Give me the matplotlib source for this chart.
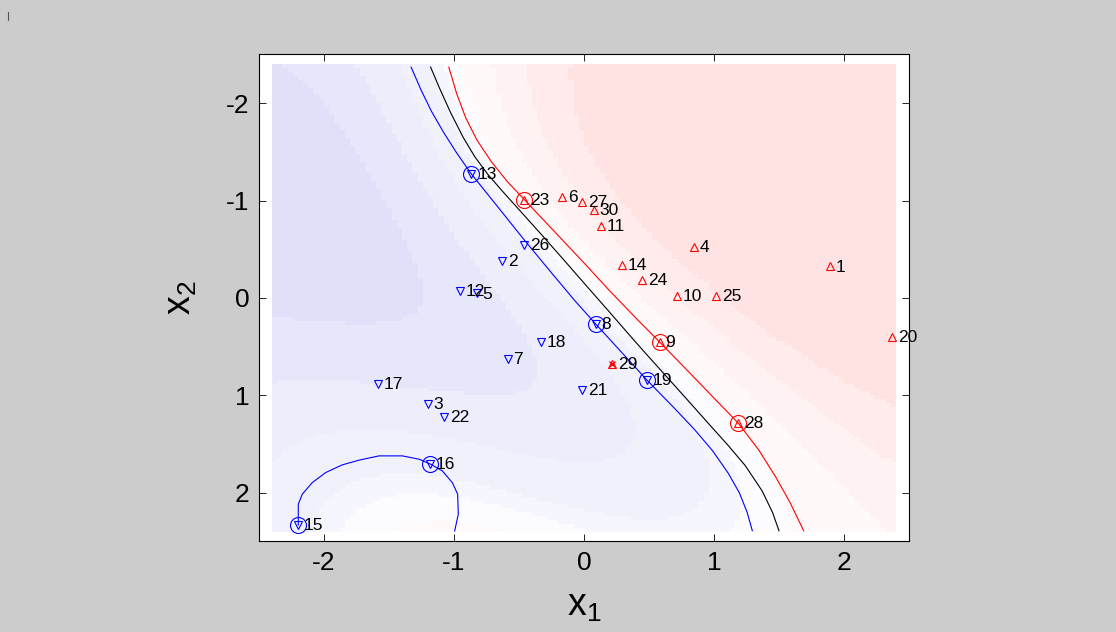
import numpy as np
import matplotlib
matplotlib.use("Agg")
import matplotlib.pyplot as plt
from matplotlib.colors import ListedColormap, BoundaryNorm
from matplotlib.lines import Line2D

plt.rcParams["font.family"] = ["Liberation Sans", "DejaVu Sans"]
plt.rcParams["mathtext.fontset"] = "custom"
plt.rcParams["mathtext.rm"] = "Liberation Sans"

# training points (x1, x2) and class labels, numbered 1..30
pt_x1 = [1.892, -0.631, -1.200, 0.848, -0.825, -0.167, -0.587, 0.090, 0.582, 0.713,
         0.128, -0.954, -0.867, 0.290, -2.198, -1.185, -1.585, -0.333, 0.482, 2.372,
         -0.013, -1.075, -0.459, 0.448, 1.018, -0.459, -0.013, 1.187, 0.218, 0.077]
pt_x2 = [-0.325, -0.380, 1.089, -0.527, -0.047, -1.034, 0.624, 0.267, 0.452, -0.024,
         -0.740, -0.075, -1.274, -0.339, 2.330, 1.703, 0.884, 0.452, 0.840, 0.398,
         0.946, 1.223, -1.010, -0.188, -0.024, -0.548, -0.990, 1.285, 0.678, -0.907]
pt_class = [1, -1, -1, 1, -1, 1, -1, -1, 1, 1,
            1, -1, -1, 1, -1, -1, -1, -1, -1, 1,
            -1, -1, 1, 1, 1, -1, 1, 1, 1, 1]
support_vectors = [8, 9, 13, 15, 16, 19, 23, 28]
misclassified = [29]

# level curves of the classifier: f = +1, f = 0, f = -1
margin_pos = [(-1.04, -2.37), (-0.98, -2.10), (-0.91, -1.85), (-0.823, -1.62), (-0.713, -1.40),
              (-0.593, -1.20), (-0.459, -1.01), (-0.24, -0.70), (0.00, -0.36), (0.20, -0.07),
              (0.395, 0.20), (0.582, 0.452), (0.785, 0.73), (0.98, 1.00), (1.187, 1.285),
              (1.344, 1.56), (1.476, 1.84), (1.585, 2.10), (1.69, 2.39)]
boundary = [(-1.18, -2.37), (-1.11, -2.15), (-1.025, -1.90), (-0.93, -1.65), (-0.84, -1.45),
            (-0.74, -1.27), (-0.63, -1.10), (-0.495, -0.90), (-0.32, -0.64), (-0.135, -0.36),
            (0.035, -0.10), (0.18, 0.12), (0.33, 0.35), (0.455, 0.54), (0.63, 0.80),
            (0.805, 1.06), (0.965, 1.30), (1.10, 1.50), (1.24, 1.72), (1.37, 1.98),
            (1.45, 2.20), (1.50, 2.39)]
margin_neg = [(-1.33, -2.37), (-1.255, -2.14), (-1.175, -1.92), (-1.08, -1.70), (-0.98, -1.49),
              (-0.867, -1.274), (-0.69, -0.98), (-0.462, -0.60), (-0.245, -0.25), (-0.069, 0.03),
              (0.09, 0.267), (0.286, 0.553), (0.482, 0.84), (0.69, 1.124), (0.85, 1.35),
              (0.99, 1.57), (1.11, 1.80), (1.195, 2.00), (1.255, 2.20), (1.295, 2.39)]
margin_neg_loop = [(-2.198, 2.33), (-2.198, 2.117), (-2.167, 2.014), (-2.09, 1.895), (-1.987, 1.792),
                   (-1.859, 1.713), (-1.731, 1.665), (-1.577, 1.621), (-1.398, 1.621), (-1.269, 1.655),
                   (-1.185, 1.703), (-1.09, 1.775), (-1.013, 1.895), (-0.972, 2.014), (-0.967, 2.22),
                   (-0.995, 2.392)]

x_ticks = [-2, -1, 0, 1, 2]
y_ticks = [-2, -1, 0, 1, 2]

# ---- decision function from the support vectors (Gaussian kernel) ----
kernel_width = 2.0
X = np.c_[pt_x1, pt_x2]
sv = np.array(support_vectors) - 1
P = X[sv]
ysv = np.array(pt_class, float)[sv]


def gauss(A, B, s):
    d = ((A[:, None, :] - B[None, :, :]) ** 2).sum(-1)
    return np.exp(-d / (2 * s * s))


n = len(sv)
A = np.zeros((n + 1, n + 1))
A[:n, :n] = gauss(P, P, kernel_width)
A[:n, n] = 1
A[n, :n] = 1
sol = np.linalg.solve(A, np.r_[ysv, 0.0])
coef, bias = sol[:n], sol[n]

step = 0.04
edges = np.arange(-2.4, 2.4 + step / 2, step)
centers = (edges[:-1] + edges[1:]) / 2
C1, C2 = np.meshgrid(centers, centers)
F = (gauss(np.c_[C1.ravel(), C2.ravel()], P, kernel_width) @ coef + bias).reshape(C1.shape)

# pale blue/white/pale red shading in a few discrete steps
bounds = [-100, -5, -3.5, -2, -0.6, 0.0, 0.8, 2.5, 4.5, 7, 100]
cols = [(0.880, 0.880, 0.980), (0.905, 0.905, 0.985), (0.930, 0.930, 0.990),
        (0.945, 0.945, 0.990), (0.965, 0.965, 0.995), (0.990, 0.988, 0.996),
        (1.0, 0.975, 0.975), (1.0, 0.950, 0.950), (1.0, 0.920, 0.920), (1.0, 0.885, 0.885)]
cmap = ListedColormap(cols)
norm = BoundaryNorm(bounds, cmap.N)

fig = plt.figure(figsize=(11.16, 6.32), dpi=100, facecolor="#cccccc")
ax = fig.add_axes([0.2321, 0.1432, 0.5824, 0.7706])
ax.set_facecolor("white")
ax.pcolormesh(edges, edges, F, cmap=cmap, norm=norm, shading="flat", zorder=0)

for curve, col in [(margin_pos, "#ff0000"), (boundary, "black"),
                   (margin_neg, "#0000ff"), (margin_neg_loop, "#0000ff")]:
    cx, cy = zip(*curve)
    ax.plot(cx, cy, color=col, lw=0.8, zorder=2)

px = np.array(pt_x1)
py = np.array(pt_x2)
pc = np.array(pt_class)
pos = pc > 0
neg = pc < 0
ax.plot(px[pos], py[pos], "^", ms=5.5, mfc="none", mec="#ff0000", mew=0.8, zorder=3)
ax.plot(px[neg], py[neg], "v", ms=5.5, mfc="none", mec="#0000ff", mew=0.8, zorder=3)
mis = np.array(misclassified) - 1
ax.plot(px[mis], py[mis], "x", ms=5, mec="#ff0000", mew=1.0, zorder=3)

for i in sv:
    ax.plot(px[i], py[i], "o", ms=11.5, mfc="none",
            mec="#ff0000" if pc[i] > 0 else "#0000ff", mew=0.8, zorder=3)

for i in range(len(px)):
    ax.annotate(str(i + 1), (px[i], py[i]), xytext=(4.2, -0.5), textcoords="offset points",
                ha="left", va="center", fontsize=12.5, color="black", zorder=4)

ax.set_xlim(-2.5, 2.5)
ax.set_ylim(2.5, -2.5)
ax.set_xticks(x_ticks)
ax.set_yticks(y_ticks)
ax.set_xticklabels([str(t) for t in x_ticks])
ax.set_yticklabels([str(t) for t in y_ticks])
ax.tick_params(direction="in", length=5, width=0.6, labelsize=19, pad=7,
               top=True, right=True, colors="black")
for sp in ax.spines.values():
    sp.set_linewidth(0.8)
ax.set_xlabel(r"$\mathregular{x_1}$", fontsize=27, labelpad=9)
ax.set_ylabel(r"$\mathregular{x_2}$", fontsize=27, labelpad=19)

fig.add_artist(Line2D([8 / 1116, 8 / 1116], [1 - 12 / 632, 1 - 20 / 632],
                      color="#555555", lw=0.8))

fig.savefig("out.png", dpi=100, facecolor=fig.get_facecolor())
